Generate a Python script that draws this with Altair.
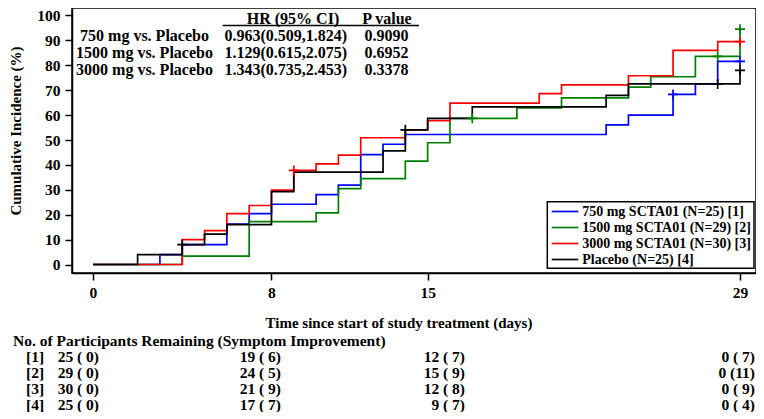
import altair as alt
import pandas as pd

FONT = "Liberation Serif"

# ---------------- data ----------------
series_names = ["750 mg SCTA01 (N=25) [1]", "1500 mg SCTA01 (N=29) [2]",
                "3000 mg SCTA01 (N=30) [3]", "Placebo (N=25) [4]"]
series_colors = ["#0000FF", "#008000", "#FF0000", "#000000"]

days_750 = [0, 3, 4, 6, 7, 8, 10, 11, 12, 13, 14, 23, 24, 26, 27, 28, 29]
inc_750 = [0, 4.0, 8.0, 16.2, 20.4, 24.2, 28.1, 31.9, 44.1, 48.3, 52.2, 56.1, 60.0, 68.3, 72.5, 81.6, 81.6]

days_1500 = [0, 4, 7, 10, 11, 12, 14, 15, 16, 19, 21, 24, 25, 27, 29]
inc_1500 = [0, 3.4, 17.2, 20.7, 30.5, 34.5, 41.5, 48.9, 58.7, 62.9, 66.9, 71.2, 75.4, 83.6, 94.5]

days_3000 = [0, 4, 5, 6, 7, 8, 9, 10, 11, 12, 14, 15, 16, 20, 21, 24, 26, 28, 29]
inc_3000 = [0, 10.0, 13.6, 20.4, 23.7, 29.9, 37.8, 40.4, 43.9, 50.9, 54.1, 57.8, 64.8, 68.6, 72.1, 75.8, 86.0, 89.5, 89.5]

days_pbo = [0, 2, 4, 5, 6, 8, 9, 13, 14, 15, 17, 23, 24, 29]
inc_pbo = [0, 4.0, 8.0, 12.2, 16.0, 29.3, 37.1, 45.6, 54.1, 58.7, 63.3, 67.9, 72.5, 78.0]

cens_days_750 = [26, 29]
cens_inc_750 = [68.3, 81.6]
cens_days_1500 = [17, 28, 29]
cens_inc_1500 = [58.7, 83.6, 94.5]
cens_days_3000 = [9, 29]
cens_inc_3000 = [37.8, 89.5]
cens_days_pbo = [4, 14, 28, 29]
cens_inc_pbo = [8.0, 54.1, 72.5, 78.0]

cmp_labels = ["750 mg vs. Placebo", "1500 mg vs. Placebo", "3000 mg vs. Placebo"]
hr_ci = ["0.963(0.509,1.824)", "1.129(0.615,2.075)", "1.343(0.735,2.453)"]
p_values = ["0.9090", "0.6952", "0.3378"]

risk_ids = ["[1]", "[2]", "[3]", "[4]"]
risk_rows = [
    ["25 ( 0)", "19 ( 6)", "12 ( 7)", "0 ( 7)"],
    ["29 ( 0)", "24 ( 5)", "15 ( 9)", "0 (11)"],
    ["30 ( 0)", "21 ( 9)", "12 ( 8)", "0 ( 9)"],
    ["25 ( 0)", "17 ( 7)", "9 ( 7)", "0 ( 4)"],
]

x_ticks = [0, 8, 15, 29]
y_ticks = list(range(0, 101, 10))

# ---------------- scales / axes ----------------
W, H = 684, 265
xs = alt.Scale(domain=[-0.941, 29.717], nice=False, zero=False)
ys = alt.Scale(domain=[-3.41, 103.01], nice=False, zero=False)

ax_x = alt.Axis(values=x_ticks, title=None, labelFont=FONT, labelFontWeight="bold",
                labelFontSize=15.5, labelColor="black", tickColor="black", tickSize=7,
                tickWidth=1.5, domainColor="black", domainWidth=1.5, labelPadding=5,
                grid=False, labelFlush=False)
ax_y = alt.Axis(values=y_ticks, title=None, labelFont=FONT, labelFontWeight="bold",
                labelFontSize=15.5, labelColor="black", tickColor="black", tickSize=7,
                tickWidth=1.5, domainColor="black", domainWidth=1.5, labelPadding=5,
                grid=False, labelFlush=False)

layers = []

curves = [(days_750, inc_750), (days_1500, inc_1500), (days_3000, inc_3000), (days_pbo, inc_pbo)]
cens = [(cens_days_750, cens_inc_750), (cens_days_1500, cens_inc_1500),
        (cens_days_3000, cens_inc_3000), (cens_days_pbo, cens_inc_pbo)]

for i in range(4):
    d, v = curves[i]
    df = pd.DataFrame({"day": d, "inc": v, "grp": series_names[i]})
    layers.append(
        alt.Chart(df).mark_line(interpolate="step-after", strokeWidth=1.7,
                                color=series_colors[i], clip=False)
        .encode(x=alt.X("day:Q", scale=xs, axis=ax_x),
                y=alt.Y("inc:Q", scale=ys, axis=ax_y))
    )
for i in range(4):
    d, v = cens[i]
    df = pd.DataFrame({"day": d, "inc": v})
    layers.append(
        alt.Chart(df).mark_point(shape="M-1,0H1M0,-1V1", size=100, filled=False,
                                 strokeWidth=1.7, color=series_colors[i], opacity=1)
        .encode(x=alt.X("day:Q", scale=xs, axis=ax_x),
                y=alt.Y("inc:Q", scale=ys, axis=ax_y))
    )


def txt(s, x, y, align="center", size=15, angle=0):
    return alt.Chart(pd.DataFrame({"t": [s]})).mark_text(
        font=FONT, fontWeight="bold", fontSize=size, align=align, baseline="middle",
        color="black", angle=angle
    ).encode(x=alt.value(x), y=alt.value(y), text="t:N")


def rule(x1, x2, y, color="black", sw=1.5):
    return alt.Chart(pd.DataFrame({"a": [0]})).mark_rule(color=color, strokeWidth=sw).encode(
        x=alt.value(x1), x2=alt.value(x2), y=alt.value(y))


# HR table (top-left)
layers.append(txt("HR (95% CI)", 221, 11, size=16))
layers.append(txt("P value", 315, 11, size=16))
layers.append(rule(150.7, 347, 17.5))
row_y = [27.5, 44.5, 61.5]
for i in range(3):
    layers.append(txt(cmp_labels[i], 72.5, row_y[i], size=16))
    layers.append(txt(hr_ci[i], 213.8, row_y[i], size=16))
    layers.append(txt(p_values[i], 314.5, row_y[i], size=16))

# legend
layers.append(
    alt.Chart(pd.DataFrame({"a": [0]})).mark_rect(fill="white", stroke="black", strokeWidth=1.5)
    .encode(x=alt.value(475.3), x2=alt.value(682), y=alt.value(193.7), y2=alt.value(260.3))
)
leg_y = [203.5, 219.5, 235.5, 251.5]
for i in range(4):
    layers.append(rule(479.7, 506.3, leg_y[i], color=series_colors[i], sw=1.7))
    layers.append(txt(series_names[i], 510.2, leg_y[i], align="left", size=14))

# axis titles
layers.append(txt("Cumulative Incidence (%)", -56, 123, angle=270))
layers.append(txt("Time since start of study treatment (days)", 327, 315))

# at-risk table
layers.append(txt("No. of Participants Remaining (Symptom Improvement)", -59, 333, align="left", size=15.5))
tab_y = [349, 365, 381, 396.5]
col_right = [27, 209, 393, 683]
for r in range(4):
    layers.append(txt(risk_ids[r], -37, tab_y[r], size=15.5))
    for c in range(4):
        layers.append(txt(risk_rows[r][c], col_right[c], tab_y[r], align="right", size=15.5))

chart = alt.layer(*layers).properties(
    width=W, height=H,
    autosize=alt.AutoSizeParams(type="none"),
    padding={"left": 64, "top": 0, "right": 0, "bottom": 139},
).configure_view(stroke="black", strokeWidth=1.5)

chart.save("out.html", embed_options={"renderer": "svg", "actions": False})
